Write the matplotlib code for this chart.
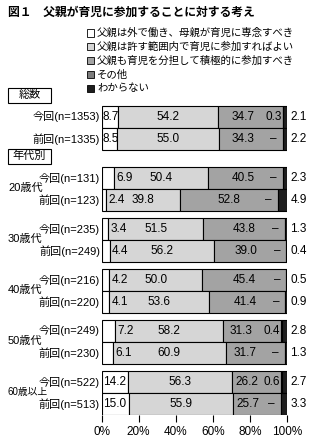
import matplotlib.pyplot as plt
import numpy as np
from matplotlib.patches import Rectangle

plt.rcParams['font.family'] = ['Liberation Sans', 'Noto Sans CJK JP']

W, H = 316, 442

title = '図１　父親が育児に参加することに対する考え'
legend_labels = ['父親は外で働き、母親が育児に専念すべき',
                 '父親は許す範囲内で育児に参加すればよい',
                 '父親も育児を分担して積極的に参加すべき',
                 'その他',
                 'わからない']
colors = ['#ffffff', '#d6d6d6', '#a3a3a3', '#7c7c7c', '#1e1e1e']

groups = ['総数', '20歳代', '30歳代', '40歳代', '50歳代', '60歳以上']
row_labels = [['今回(n=1353)', '前回(n=1335)'],
              ['今回(n=131)', '前回(n=123)'],
              ['今回(n=235)', '前回(n=249)'],
              ['今回(n=216)', '前回(n=220)'],
              ['今回(n=249)', '前回(n=230)'],
              ['今回(n=522)', '前回(n=513)']]

# columns: 外で働く, 許す範囲, 分担, その他, わからない
values = [[[8.7, 54.2, 34.7, 0.3, 2.1], [8.5, 55.0, 34.3, 0.0, 2.2]],
          [[6.9, 50.4, 40.5, 0.0, 2.3], [2.4, 39.8, 52.8, 0.0, 4.9]],
          [[3.4, 51.5, 43.8, 0.0, 1.3], [4.4, 56.2, 39.0, 0.0, 0.4]],
          [[4.2, 50.0, 45.4, 0.0, 0.5], [4.1, 53.6, 41.4, 0.0, 0.9]],
          [[7.2, 58.2, 31.3, 0.4, 2.8], [6.1, 60.9, 31.7, 0.0, 1.3]],
          [[14.2, 56.3, 26.2, 0.6, 2.7], [15.0, 55.9, 25.7, 0.0, 3.3]]]

xticks = [0, 20, 40, 60, 80, 100]


def fx(x):
    return x / W


def fy(y):
    return 1 - y / H


def box(x, y, w, h, fc, lw=0.8):
    # rectangle in pixel coords (top-left origin)
    fig.add_artist(Rectangle((fx(x), fy(y + h)), w / W, h / H, transform=fig.transFigure,
                             facecolor=fc, edgecolor='black', linewidth=lw))


fig = plt.figure(figsize=(W / 100, H / 100), dpi=100)
x0, x1 = 101.5, 287
y_top, y_bot = 105, 415
ax = fig.add_axes([fx(x0), fy(y_bot), (x1 - x0) / W, (y_bot - y_top) / H])
ax.set_xlim(0, 100)
ax.set_ylim(y_bot, y_top)

bh = 22
for k in range(len(groups)):
    top = 117 + k * 51 + (10 if k > 0 else 0)
    for j in range(2):
        yc = top + j * bh
        v = values[k][j]
        left = 0
        for i, val in enumerate(v):
            if val > 0:
                ax.barh(yc, val, left=left, height=bh, color=colors[i],
                        edgecolor='black', linewidth=0.8)
            left += val
        cum = np.cumsum(v)
        # labels
        if v[0] >= 8:
            ax.text(0.6, yc, '%.1f' % v[0], ha='left', va='center', fontsize=8.5)
        else:
            ax.text(v[0] + 1.2, yc, '%.1f' % v[0], ha='left', va='center', fontsize=8.5)
        ax.text((cum[0] + cum[1]) / 2, yc, '%.1f' % v[1], ha='center', va='center', fontsize=8.5)
        x3 = min((cum[1] + cum[2]) / 2, cum[2] - 21.5)
        x3 = max(x3, cum[1] + 8)
        ax.text(x3, yc, '%.1f' % v[2], ha='center', va='center', fontsize=8.5)
        other = '–' if v[3] == 0 else '%.1f' % v[3]
        ax.text(cum[2] - 5, yc, other, ha='center', va='center', fontsize=8.5)
        ax.text(101.8, yc, '%.1f' % v[4], ha='left', va='center', fontsize=8.5, clip_on=False)
        fig.text(fx(100), fy(yc), row_labels[k][j], ha='right', va='center', fontsize=8)
    if k > 0:
        fig.text(fx(8), fy(top + bh / 2 - 1), groups[k], ha='left', va='center',
                 fontsize=7 if k == 5 else 8)

for s in ['top', 'right', 'left', 'bottom']:
    ax.spines[s].set_visible(False)
ax.set_yticks([])
ax.set_xticks(xticks)
ax.set_xticklabels(['%d%%' % t for t in xticks], fontsize=8.5)
ax.tick_params(axis='x', length=5, width=0.8, pad=3)

# header boxes
for label, yc in [('総数', 95), ('年代別', 156)]:
    box(8, yc - 7.5, 43, 15, 'white')
    fig.text(fx(29.5), fy(yc), label, ha='center', va='center', fontsize=8)

fig.text(fx(8), fy(13), title, ha='left', va='center', fontsize=8.5, fontweight='bold')

for i, lab in enumerate(legend_labels):
    yl = 33 + i * 13.8
    box(86.5, yl - 3.5, 7, 7, colors[i], lw=0.6)
    fig.text(fx(97), fy(yl), lab, ha='left', va='center', fontsize=7.5)

fig.savefig('out.png', dpi=100)
